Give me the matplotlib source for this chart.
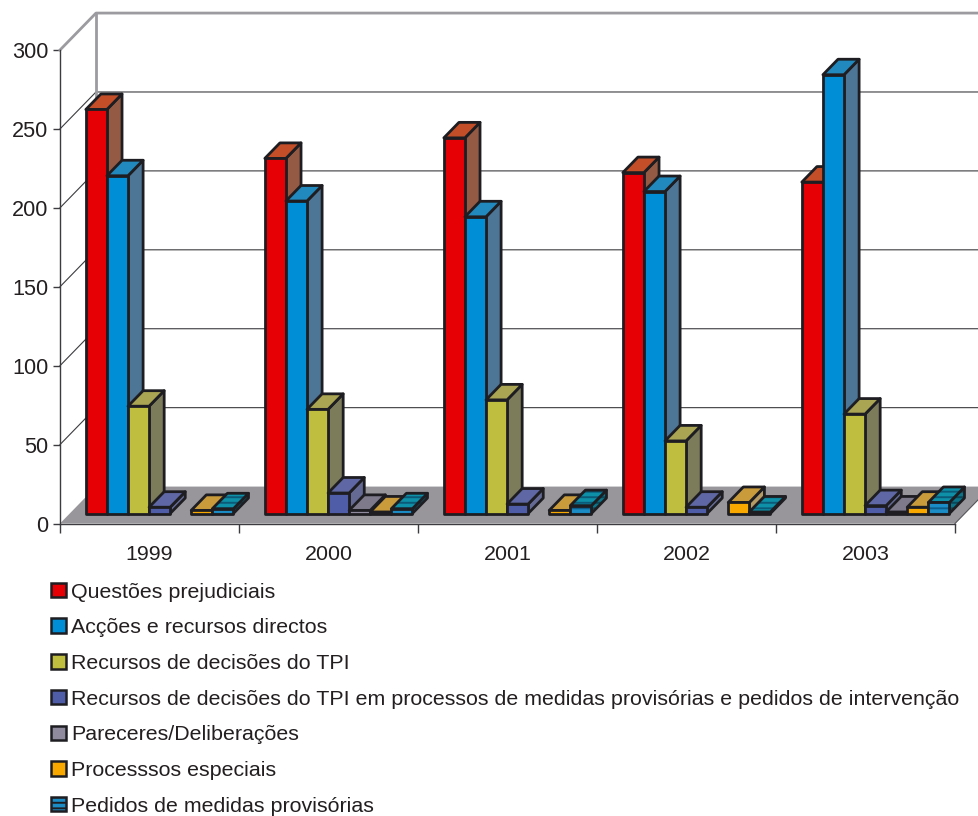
import matplotlib
matplotlib.use("Agg")
import matplotlib.pyplot as plt
from matplotlib.patches import Polygon, Patch

plt.rcParams['font.family'] = ['Liberation Sans', 'DejaVu Sans']
plt.rcParams['hatch.linewidth'] = 1.4

# data
years = ['1999', '2000', '2001', '2002', '2003']
questoes = [256, 225, 238, 216, 210]
accoes = [214, 198, 188, 204, 278]
recursos = [68, 66, 72, 46, 63]
medidas_tpi = [4, 13, 6, 4, 5]
pareceres = [0, 2, 0, 0, 1]
especiais = [2, 1, 2, 7, 4]
pedidos = [3, 3, 5, 1, 7]
names = ['Questões prejudiciais',
         'Acções e recursos directos',
         'Recursos de decisões do TPI',
         'Recursos de decisões do TPI em processos de medidas provisórias e pedidos de intervenção',
         'Pareceres/Deliberações',
         'Processsos especiais',
         'Pedidos de medidas provisórias']
y_ticks = [0, 50, 100, 150, 200, 250, 300]

series = [questoes, accoes, recursos, medidas_tpi, pareceres, especiais, pedidos]

# front, top, side colours of each series
front = ['#e60005', '#008fd7', '#bfbe3e', '#4f5ca8', '#8f8a9d', '#f9a800', '#1c8cc6']
top = ['#c34e28', '#2189bd', '#aaa552', '#5f68a4', '#7e7a8c', '#c99b3b', '#0d90a8']
side = ['#955a44', '#4d7595', '#7c7b5a', '#646a94', '#6f6c7c', '#b59a63', '#0b7488']
stripe = ['#0c5f8c', '#0b5a78', '#08485a']

EDGE = '#1e1e22'
TEXT = '#231f20'
WALL = '#9c9ca0'
FLOOR = '#98969a'

# oblique depth of the box, x in categories and y in value units
DEPTH_X = 36 / 179.0
DEPTH_Y = 23.4
BAR_W = 21.1 / 179.2
BAR_START = 0.09
Z0 = 0.27
Z1 = 0.69


def proj(x, y, z):
    return (x + z * DEPTH_X, y + z * DEPTH_Y)


def draw_face(ax, pts, color, order, hatch_color=None):
    ax.add_patch(Polygon(pts, closed=True, facecolor=color, edgecolor='none',
                         clip_on=False, zorder=order))
    if hatch_color:
        ax.add_patch(Polygon(pts, closed=True, facecolor='none', edgecolor=hatch_color,
                             hatch='---', linewidth=0, clip_on=False, zorder=order))
    ax.add_patch(Polygon(pts, closed=True, facecolor='none', edgecolor=EDGE, linewidth=2.0,
                         joinstyle='round', clip_on=False, zorder=order))


def draw_bar(ax, x0, h, i, order):
    x1 = x0 + BAR_W
    hatch = stripe if i == 6 else [None, None, None]
    # side and top first, the front goes over them
    draw_face(ax, [proj(x1, 0, Z0), proj(x1, 0, Z1), proj(x1, h, Z1), proj(x1, h, Z0)],
              side[i], order, hatch[2])
    draw_face(ax, [proj(x0, h, Z0), proj(x1, h, Z0), proj(x1, h, Z1), proj(x0, h, Z1)],
              top[i], order, hatch[1])
    draw_face(ax, [proj(x0, 0, Z0), proj(x1, 0, Z0), proj(x1, h, Z0), proj(x0, h, Z0)],
              front[i], order, hatch[0])


fig = plt.figure(figsize=(9.79, 8.16), dpi=100)
ax = fig.add_axes([60 / 979, (816 - 523.5) / 816, 895 / 979, 473.5 / 816])
ax.set_xlim(0, len(years))
ax.set_ylim(0, 300)
ax.patch.set_visible(False)

# floor
ax.add_patch(Polygon([proj(0, 0, 0), proj(0, 0, 1), proj(5, 0, 1), proj(5, 0, 0)], closed=True,
                     facecolor=FLOOR, edgecolor='none', clip_on=False, zorder=1))

# grid on the back and side walls
for v in y_ticks[1:-1]:
    ax.plot([proj(0, v, 0)[0], proj(0, v, 1)[0], proj(5, v, 1)[0]],
            [proj(0, v, 0)[1], proj(0, v, 1)[1], proj(5, v, 1)[1]],
            color='#3c3c40', lw=0.8, clip_on=False, zorder=2)
ax.plot([proj(0, 0, 1)[0], proj(0, 300, 1)[0]], [proj(0, 0, 1)[1], proj(0, 300, 1)[1]],
        color=WALL, lw=2, clip_on=False, zorder=2)
ax.plot([proj(0, 300, 0)[0], proj(0, 300, 1)[0], proj(5, 300, 1)[0]],
        [proj(0, 300, 0)[1], proj(0, 300, 1)[1], proj(5, 300, 1)[1]],
        color=WALL, lw=2, clip_on=False, zorder=2)
ax.plot([proj(5, 0, 0)[0], proj(5, 0, 1)[0]], [proj(5, 0, 0)[1], proj(5, 0, 1)[1]],
        color='#55555a', lw=0.8, clip_on=False, zorder=2)

# bars
order = 10
for g in range(len(years)):
    for i, vals in enumerate(series):
        if vals[g] > 0:
            draw_bar(ax, g + BAR_START + i * BAR_W, vals[g], i, order)
        order += 1

# axes
for s in ['top', 'right']:
    ax.spines[s].set_visible(False)
for s in ['left', 'bottom']:
    ax.spines[s].set_color('#3c3c40')
    ax.spines[s].set_linewidth(1.0)
    ax.spines[s].set_zorder(3)
ax.set_yticks(y_ticks)
ax.set_xticks(range(len(years) + 1))
ax.set_xticklabels([])
ax.set_xticks([g + 0.5 for g in range(len(years))], minor=True)
ax.set_xticklabels(years, minor=True)
ax.tick_params(axis='y', length=5, width=1.0, color='#3c3c40', labelsize=15.6, labelcolor=TEXT, pad=3.5)
ax.tick_params(axis='x', which='major', length=6.5, width=1.0, color='#3c3c40')
ax.tick_params(axis='x', which='minor', length=0, labelsize=15.4, labelcolor=TEXT, pad=15.5)

# legend
handles = []
for i, n in enumerate(names):
    if i == 6:
        handles.append(Patch(facecolor=front[i], edgecolor=EDGE, hatch='---', linewidth=1.8, label=n))
    else:
        handles.append(Patch(facecolor=front[i], edgecolor=EDGE, linewidth=1.8, label=n))
leg = fig.legend(handles=handles, loc='upper left', bbox_to_anchor=(51.5 / 979, (816 - 582.5) / 816),
                 borderaxespad=0, borderpad=0, frameon=False, fontsize=15.4, labelcolor=TEXT,
                 handlelength=0.66, handleheight=0.66, handletextpad=0.27, labelspacing=0.78)

fig.savefig('out.png', dpi=100)
